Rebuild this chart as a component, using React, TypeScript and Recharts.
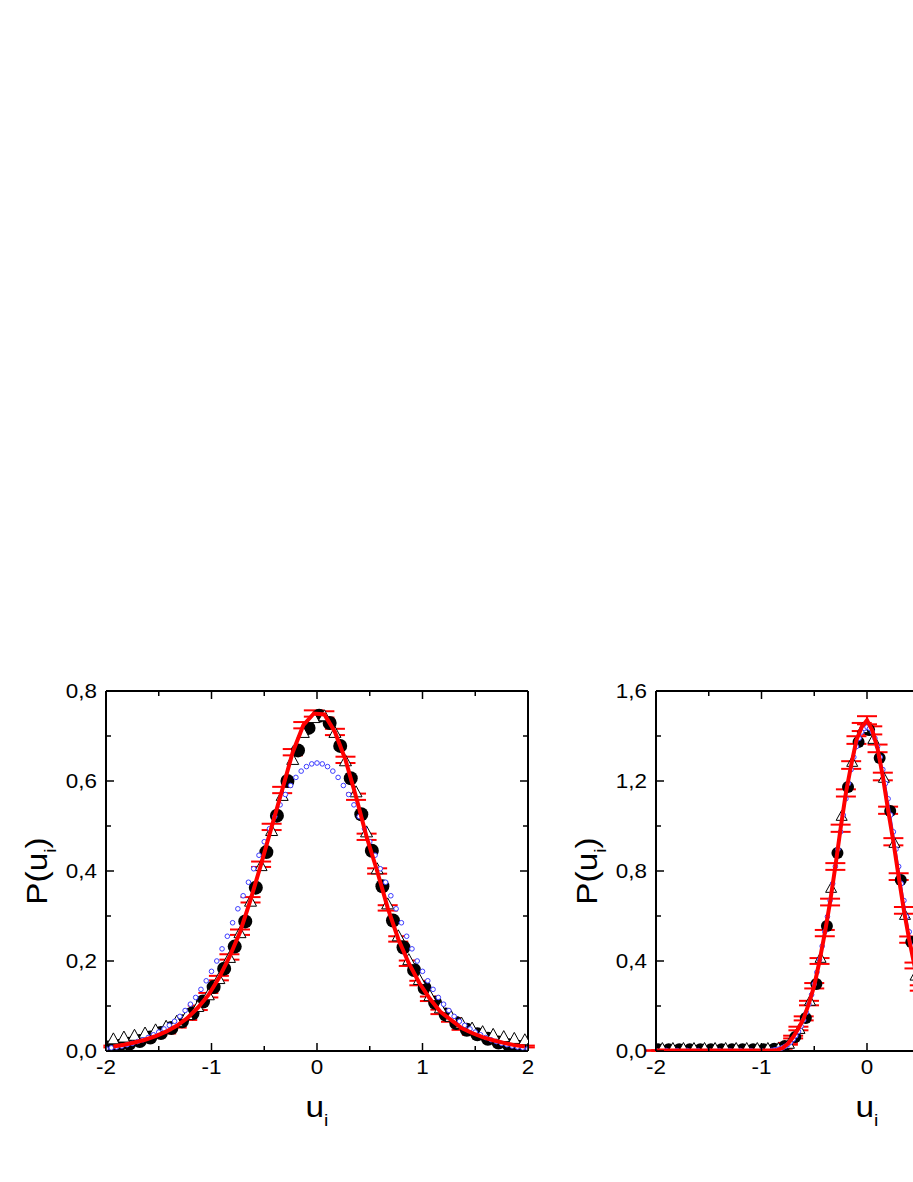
import React from 'react';
import { ScatterChart, Scatter, XAxis, YAxis, ErrorBar, Label } from 'recharts';

const FONT = '"Liberation Sans", Arial, Helvetica, sans-serif';
const STRETCH = 1.15;

// ---------- axis ticks ----------
const xTicks = [-2, -1.5, -1, -0.5, 0, 0.5, 1, 1.5, 2];
const leftYTicks = [0, 0.1, 0.2, 0.3, 0.4, 0.5, 0.6, 0.7, 0.8];
const rightYTicks = [0, 0.2, 0.4, 0.6, 0.8, 1.0, 1.2, 1.4, 1.6];

// ---------- shared u grids ----------
const circleU = [-1.98, -1.88, -1.78, -1.68, -1.58, -1.48, -1.38, -1.28, -1.18, -1.08, -0.98, -0.88, -0.78, -0.68, -0.58, -0.48, -0.38, -0.28, -0.18, -0.08, 0.02, 0.12, 0.22, 0.32, 0.42, 0.52, 0.62, 0.72, 0.82, 0.92, 1.02, 1.12, 1.22, 1.32, 1.42, 1.52, 1.62, 1.72, 1.82, 1.92];
const gridU05 = [-2, -1.95, -1.9, -1.85, -1.8, -1.75, -1.7, -1.65, -1.6, -1.55, -1.5, -1.45, -1.4, -1.35, -1.3, -1.25, -1.2, -1.15, -1.1, -1.05, -1, -0.95, -0.9, -0.85, -0.8, -0.75, -0.7, -0.65, -0.6, -0.55, -0.5, -0.45, -0.4, -0.35, -0.3, -0.25, -0.2, -0.15, -0.1, -0.05, 0, 0.05, 0.1, 0.15, 0.2, 0.25, 0.3, 0.35, 0.4, 0.45, 0.5, 0.55, 0.6, 0.65, 0.7, 0.75, 0.8, 0.85, 0.9, 0.95, 1, 1.05, 1.1, 1.15, 1.2, 1.25, 1.3, 1.35, 1.4, 1.45, 1.5, 1.55, 1.6, 1.65, 1.7, 1.75, 1.8, 1.85, 1.9, 1.95, 2];

// ---------- left panel ----------
const leftCircleP = [0.008, 0.011, 0.016, 0.022, 0.030, 0.040, 0.051, 0.066, 0.084, 0.110, 0.142, 0.183, 0.232, 0.288, 0.363, 0.442, 0.523, 0.600, 0.668, 0.718, 0.745, 0.729, 0.678, 0.606, 0.526, 0.445, 0.366, 0.290, 0.230, 0.180, 0.140, 0.107, 0.081, 0.062, 0.047, 0.037, 0.027, 0.019, 0.013, 0.009];

const leftTriU = [-1.93, -1.83, -1.73, -1.63, -1.53, -1.43, -1.33, -1.23, -1.13, -1.03, -0.93, -0.83, -0.73, -0.63, -0.53, -0.43, -0.33, -0.23, -0.13, -0.03, 0.07, 0.17, 0.27, 0.37, 0.47, 0.57, 0.67, 0.77, 0.87, 0.97, 1.07, 1.17, 1.27, 1.37, 1.47, 1.57, 1.67, 1.77, 1.87, 1.97];
const leftTriP = [0.024, 0.028, 0.032, 0.037, 0.044, 0.052, 0.063, 0.078, 0.096, 0.122, 0.158, 0.205, 0.260, 0.330, 0.409, 0.487, 0.565, 0.645, 0.705, 0.738, 0.742, 0.705, 0.642, 0.573, 0.484, 0.402, 0.324, 0.253, 0.200, 0.156, 0.120, 0.093, 0.074, 0.059, 0.048, 0.040, 0.034, 0.029, 0.025, 0.022];

const leftBlueP = [0.005, 0.007, 0.009, 0.011, 0.014, 0.017, 0.021, 0.025, 0.030, 0.036, 0.042, 0.049, 0.057, 0.066, 0.077, 0.090, 0.104, 0.119, 0.137, 0.156, 0.177, 0.200, 0.227, 0.255, 0.285, 0.316, 0.345, 0.375, 0.405, 0.435, 0.465, 0.494, 0.521, 0.547, 0.570, 0.590, 0.608, 0.622, 0.632, 0.638, 0.640, 0.638, 0.632, 0.622, 0.608, 0.590, 0.570, 0.547, 0.521, 0.494, 0.465, 0.435, 0.405, 0.375, 0.345, 0.316, 0.285, 0.255, 0.227, 0.200, 0.177, 0.156, 0.137, 0.119, 0.104, 0.090, 0.077, 0.066, 0.057, 0.049, 0.042, 0.036, 0.030, 0.025, 0.021, 0.017, 0.014, 0.011, 0.009, 0.007, 0.005];

const leftRedU = leftTriU;
const leftRedP = [0.010, 0.014, 0.019, 0.025, 0.033, 0.043, 0.056, 0.073, 0.096, 0.124, 0.162, 0.209, 0.264, 0.336, 0.415, 0.498, 0.580, 0.664, 0.724, 0.750, 0.748, 0.709, 0.647, 0.565, 0.476, 0.400, 0.318, 0.249, 0.195, 0.151, 0.116, 0.087, 0.069, 0.051, 0.040, 0.031, 0.024, 0.018, 0.013, 0.010];
const leftRedErr = [0.002, 0.002, 0.003, 0.003, 0.003, 0.004, 0.004, 0.004, 0.005, 0.005, 0.005, 0.006, 0.006, 0.006, 0.006, 0.007, 0.007, 0.007, 0.007, 0.007, 0.007, 0.007, 0.007, 0.007, 0.007, 0.006, 0.006, 0.006, 0.006, 0.005, 0.005, 0.005, 0.004, 0.004, 0.004, 0.003, 0.003, 0.003, 0.002, 0.002];

// ---------- right panel ----------
const rightCircleP = [0.008, 0.008, 0.008, 0.008, 0.008, 0.008, 0.008, 0.008, 0.008, 0.008, 0.008, 0.010, 0.022, 0.062, 0.147, 0.298, 0.556, 0.880, 1.173, 1.373, 1.427, 1.302, 1.067, 0.760, 0.484, 0.270, 0.135, 0.058, 0.020, 0.010, 0.008, 0.008, 0.008, 0.008, 0.008, 0.008, 0.008, 0.008, 0.008, 0.008];

const rightTriU = [-1.94, -1.84, -1.74, -1.64, -1.54, -1.44, -1.34, -1.24, -1.14, -1.04, -0.94, -0.84, -0.74, -0.64, -0.54, -0.44, -0.34, -0.24, -0.14, -0.04, 0.06, 0.16, 0.26, 0.36, 0.46, 0.56, 0.66, 0.76, 0.86, 0.96, 1.06, 1.16, 1.26, 1.36, 1.46, 1.56, 1.66, 1.76, 1.86, 1.96];
const rightTriP = [0.008, 0.008, 0.008, 0.008, 0.008, 0.008, 0.008, 0.008, 0.008, 0.008, 0.008, 0.008, 0.027, 0.093, 0.218, 0.409, 0.720, 1.040, 1.280, 1.430, 1.382, 1.209, 0.920, 0.600, 0.330, 0.160, 0.070, 0.025, 0.008, 0.008, 0.008, 0.008, 0.008, 0.008, 0.008, 0.008, 0.008, 0.008, 0.008, 0.008];

const rightBlueU = [-2, -1.9, -1.8, -1.7, -1.6, -1.5, -1.4, -1.3, -1.2, -1.1, -1.0,
  -0.9, -0.875, -0.85, -0.825, -0.8, -0.775, -0.75, -0.725, -0.7, -0.675, -0.65, -0.625, -0.6, -0.575, -0.55, -0.525, -0.5, -0.475, -0.45, -0.425, -0.4, -0.375, -0.35, -0.325, -0.3, -0.275, -0.25, -0.225, -0.2, -0.175, -0.15, -0.125, -0.1, -0.075, -0.05, -0.025,
  0, 0.025, 0.05, 0.075, 0.1, 0.125, 0.15, 0.175, 0.2, 0.225, 0.25, 0.275, 0.3, 0.325, 0.35, 0.375, 0.4, 0.425, 0.45, 0.475, 0.5, 0.525, 0.55, 0.575, 0.6, 0.625, 0.65, 0.675, 0.7, 0.725, 0.75, 0.775, 0.8, 0.825, 0.85, 0.875, 0.9,
  1.0, 1.1, 1.2, 1.3, 1.4, 1.5, 1.6, 1.7, 1.8, 1.9, 2];
const rightBlueP = [0.002, 0.002, 0.002, 0.002, 0.002, 0.002, 0.002, 0.002, 0.002, 0.002, 0.002,
  0.003, 0.005, 0.007, 0.010, 0.015, 0.021, 0.029, 0.039, 0.052, 0.068, 0.087, 0.110, 0.138, 0.171, 0.208, 0.250, 0.298, 0.350, 0.406, 0.466, 0.530, 0.597, 0.669, 0.744, 0.820, 0.897, 0.974, 1.049, 1.121, 1.189, 1.251, 1.306, 1.353, 1.390, 1.418, 1.434,
  1.440, 1.434, 1.418, 1.390, 1.353, 1.306, 1.251, 1.189, 1.121, 1.049, 0.974, 0.897, 0.820, 0.744, 0.669, 0.597, 0.530, 0.466, 0.406, 0.350, 0.298, 0.250, 0.208, 0.171, 0.138, 0.110, 0.087, 0.068, 0.052, 0.039, 0.029, 0.021, 0.015, 0.010, 0.007, 0.005, 0.003,
  0.002, 0.002, 0.002, 0.002, 0.002, 0.002, 0.002, 0.002, 0.002, 0.002, 0.002];

const rightRedU = gridU05;
const rightRedP = [0.002, 0.002, 0.002, 0.002, 0.002, 0.002, 0.002, 0.002, 0.002, 0.002, 0.002, 0.002, 0.002, 0.002, 0.002, 0.002, 0.002, 0.002, 0.002, 0.002, 0.002, 0.002, 0.002,
  0.005, 0.013, 0.032, 0.062, 0.100, 0.145, 0.213, 0.290, 0.400, 0.524, 0.662, 0.820, 0.990, 1.147, 1.271, 1.382, 1.440, 1.470, 1.425, 1.345, 1.220, 1.070, 0.930, 0.775, 0.625, 0.495, 0.380, 0.280, 0.200, 0.135, 0.085, 0.050, 0.027, 0.012, 0.005,
  0.002, 0.002, 0.002, 0.002, 0.002, 0.002, 0.002, 0.002, 0.002, 0.002, 0.002, 0.002, 0.002, 0.002, 0.002, 0.002, 0.002, 0.002, 0.002, 0.002, 0.002, 0.002, 0.002];
const rightRedErr = [0.001, 0.001, 0.001, 0.001, 0.001, 0.001, 0.001, 0.001, 0.001, 0.001, 0.001, 0.001, 0.001, 0.001, 0.001, 0.001, 0.001, 0.001, 0.001, 0.001, 0.001, 0.001, 0.001,
  0.002, 0.003, 0.004, 0.006, 0.008, 0.009, 0.010, 0.012, 0.013, 0.014, 0.015, 0.015, 0.016, 0.016, 0.017, 0.017, 0.018, 0.018, 0.018, 0.017, 0.017, 0.016, 0.016, 0.015, 0.015, 0.014, 0.013, 0.012, 0.010, 0.009, 0.008, 0.006, 0.004, 0.003, 0.002,
  0.001, 0.001, 0.001, 0.001, 0.001, 0.001, 0.001, 0.001, 0.001, 0.001, 0.001, 0.001, 0.001, 0.001, 0.001, 0.001, 0.001, 0.001, 0.001, 0.001, 0.001, 0.001, 0.001];

// ---------- helpers ----------
type Pt = { x: number; y: number; e: number };
const pts = (u: number[], p: number[], e?: number[]): Pt[] =>
  u.map((x, i) => ({ x, y: p[i], e: e ? e[i] : 0 }));

const isMult = (v: number, step: number) => Math.abs(v / step - Math.round(v / step)) < 1e-6;

const BottomTick = (props: any) => {
  const { x, y, payload } = props;
  const v = payload.value as number;
  const major = isMult(v, 1);
  return (
    <g>
      <line x1={x} x2={x} y1={y} y2={y - (major ? 8 : 5)} stroke="#000" strokeWidth={1.5} />
      {major && (
        <text transform={`translate(${x}, ${y + 23}) scale(${STRETCH}, 1)`} x={0} y={0} textAnchor="middle"
          fontSize={19.5} fontFamily={FONT} fill="#000">
          {String(Math.round(v))}
        </text>
      )}
    </g>
  );
};

const TopTick = (props: any) => {
  const { x, y, payload } = props;
  const major = isMult(payload.value, 1);
  return <line x1={x} x2={x} y1={y} y2={y + (major ? 8 : 5)} stroke="#000" strokeWidth={1.5} />;
};

const makeLeftTick = (majorStep: number) => (props: any) => {
  const { x, y, payload } = props;
  const v = payload.value as number;
  const major = isMult(v, majorStep);
  return (
    <g>
      <line x1={x} x2={x + (major ? 8 : 5)} y1={y} y2={y} stroke="#000" strokeWidth={1.5} />
      {major && (
        <text transform={`translate(${x - 9}, ${y + 7}) scale(${STRETCH}, 1)`} x={0} y={0} textAnchor="end"
          fontSize={19.5} fontFamily={FONT} fill="#000">
          {v.toFixed(1).replace('.', ',')}
        </text>
      )}
    </g>
  );
};

const makeRightTick = (majorStep: number) => (props: any) => {
  const { x, y, payload } = props;
  const major = isMult(payload.value, majorStep);
  return <line x1={x} x2={x - (major ? 8 : 5)} y1={y} y2={y} stroke="#000" strokeWidth={1.5} />;
};

const XTitle = (props: any) => {
  const vb = props.viewBox;
  const cx = vb.x + vb.width / 2;
  const by = vb.y + 66;
  return (
    <text transform={`translate(${cx}, ${by}) scale(${STRETCH}, 1)`} x={0} y={0} textAnchor="middle"
      fontSize={29} fontFamily={FONT} fill="#000">
      u<tspan fontSize={17} dy={9}>i</tspan>
    </text>
  );
};

const YTitle = (props: any) => {
  const vb = props.viewBox;
  const bx = vb.x + 1;
  const cy = vb.y + vb.height / 2;
  return (
    <text transform={`translate(${bx}, ${cy}) rotate(-90) scale(${STRETCH}, 1)`} x={0} y={0} textAnchor="middle"
      fontSize={29} fontFamily={FONT} fill="#000">
      P(u<tspan fontSize={17} dy={9}>i</tspan><tspan dy={-9}>)</tspan>
    </text>
  );
};

const circleShape = (r: number) => (p: any) => <circle cx={p.cx} cy={p.cy} r={r} fill="#000" />;
const triShape = (w: number, h: number) => (p: any) => (
  <polygon
    points={`${p.cx - w / 2},${p.cy + h / 3} ${p.cx + w / 2},${p.cy + h / 3} ${p.cx},${p.cy - (2 * h) / 3}`}
    fill="#fff"
    stroke="#000"
    strokeWidth={1}
  />
);
const blueShape = (p: any) => <circle cx={p.cx} cy={p.cy} r={2.3} fill="#fff" stroke="#3c3cff" strokeWidth={1} />;
const noShape = () => <g />;

const axisLine = { stroke: '#000', strokeWidth: 2 };
const MARGIN = { top: 82, right: 39, bottom: 87, left: 38 };

function Frame(yMax: number, yTicks: number[], majorStep: number) {
  return [
    <XAxis key="xb" xAxisId="b" dataKey="x" type="number" domain={[-2, 2]} ticks={xTicks} interval={0}
      allowDataOverflow tickSize={0} tickMargin={0} tickLine={false} axisLine={axisLine} tick={BottomTick} height={30}>
      <Label content={XTitle} />
    </XAxis>,
    <XAxis key="xt" xAxisId="t" orientation="top" dataKey="x" type="number" domain={[-2, 2]} ticks={xTicks} interval={0}
      allowDataOverflow tickSize={0} tickMargin={0} tickLine={false} axisLine={axisLine} tick={TopTick} height={1} />,
    <YAxis key="yl" yAxisId="l" dataKey="y" type="number" domain={[0, yMax]} ticks={yTicks} interval={0}
      allowDataOverflow tickSize={0} tickMargin={0} tickLine={false} axisLine={axisLine} tick={makeLeftTick(majorStep)} width={60}>
      <Label content={YTitle} />
    </YAxis>,
    <YAxis key="yr" yAxisId="r" orientation="right" dataKey="y" type="number" domain={[0, yMax]} ticks={yTicks} interval={0}
      allowDataOverflow tickSize={0} tickMargin={0} tickLine={false} axisLine={axisLine} tick={makeRightTick(majorStep)} width={1} />,
  ];
}

function LeftPanel() {
  return (
    <ScatterChart width={560} height={560} margin={MARGIN}>
      {Frame(0.8, leftYTicks, 0.2)}
      <Scatter name="circles" xAxisId="b" yAxisId="l" data={pts(circleU, leftCircleP)} dataKey="y" shape={circleShape(7)} isAnimationActive={false} />
      <Scatter name="triangles" xAxisId="b" yAxisId="l" data={pts(leftTriU, leftTriP)} dataKey="y" shape={triShape(12, 11)} isAnimationActive={false} />
      <Scatter name="blue" xAxisId="b" yAxisId="l" data={pts(gridU05, leftBlueP)} dataKey="y" shape={blueShape} isAnimationActive={false} />
      <Scatter name="red" xAxisId="b" yAxisId="l" data={pts(leftRedU, leftRedP, leftRedErr)} dataKey="y" shape={noShape}
        line={{ stroke: '#ff0000', strokeWidth: 4 }} fill="#ff0000" isAnimationActive={false}>
        <ErrorBar dataKey="e" direction="y" width={10} stroke="#ff0000" strokeWidth={2} />
      </Scatter>
    </ScatterChart>
  );
}

function RightPanel() {
  return (
    <ScatterChart width={560} height={560} margin={MARGIN}>
      {Frame(1.6, rightYTicks, 0.4)}
      <Scatter name="circles" xAxisId="b" yAxisId="l" data={pts(circleU, rightCircleP)} dataKey="y" shape={circleShape(6)} isAnimationActive={false} />
      <Scatter name="triangles" xAxisId="b" yAxisId="l" data={pts(rightTriU, rightTriP)} dataKey="y" shape={triShape(11, 10)} isAnimationActive={false} />
      <Scatter name="blue" xAxisId="b" yAxisId="l" data={pts(rightBlueU, rightBlueP)} dataKey="y" shape={blueShape}
        line={{ stroke: '#3c3cff', strokeWidth: 1 }} fill="#3c3cff" isAnimationActive={false} />
      <Scatter name="red" xAxisId="b" yAxisId="l" data={pts(rightRedU, rightRedP, rightRedErr)} dataKey="y" shape={noShape}
        line={{ stroke: '#ff0000', strokeWidth: 4 }} fill="#ff0000" isAnimationActive={false}>
        <ErrorBar dataKey="e" direction="y" width={10} stroke="#ff0000" strokeWidth={2} />
      </Scatter>
    </ScatterChart>
  );
}

export default function App() {
  return (
    <div style={{ position: 'absolute', left: 0, top: 0, width: 913, height: 1182, overflow: 'hidden', background: '#fff' }}>
      <div style={{ position: 'absolute', left: 8, top: 608 }}>
        <LeftPanel />
      </div>
      <div style={{ position: 'absolute', left: 558, top: 608 }}>
        <RightPanel />
      </div>
    </div>
  );
}
